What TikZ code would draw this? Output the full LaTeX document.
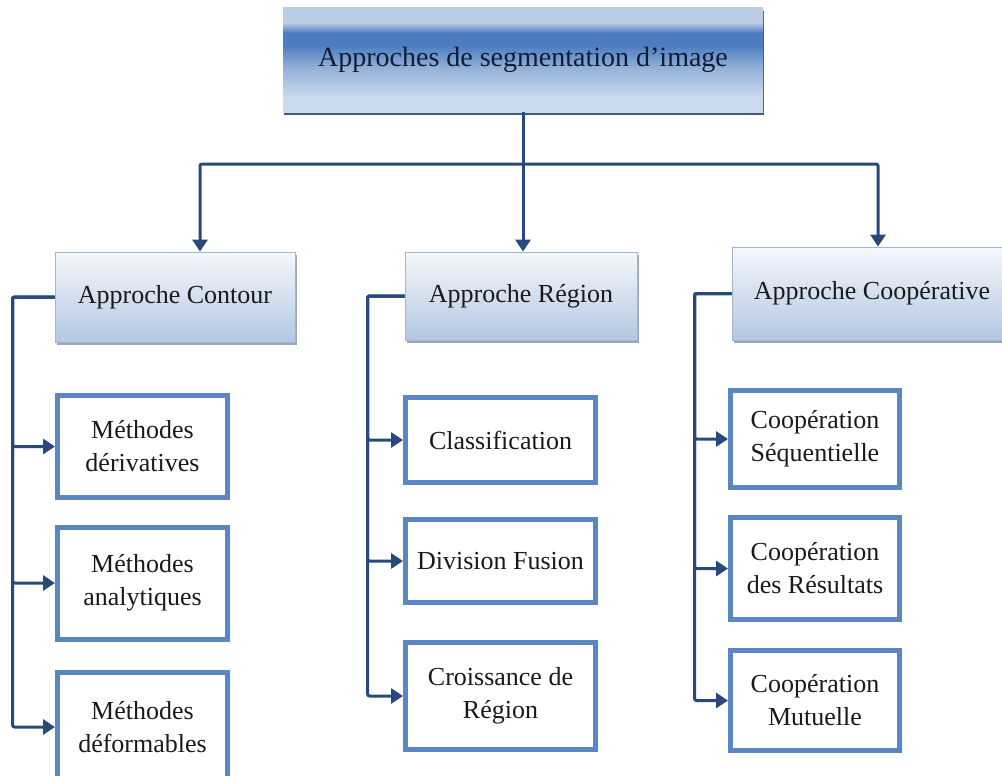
\documentclass[tikz,border=0pt]{standalone}
\usepackage{fontspec}
\setmainfont{Liberation Serif}
\usetikzlibrary{arrows.meta,shadows}
\definecolor{connc}{HTML}{284A7A}
\definecolor{leafb}{HTML}{5A86C3}
\definecolor{lvltop}{HTML}{F5F8FC}
\definecolor{lvlbot}{HTML}{B3C7E1}
\definecolor{lvlbd}{HTML}{A3B6CE}
\definecolor{shd}{HTML}{7F93AE}
\definecolor{tA}{HTML}{BACDE4}
\definecolor{tM}{HTML}{94B2DA}
\definecolor{tB}{HTML}{4D7DC0}
\definecolor{tC}{HTML}{CADAED}
\definecolor{txt}{HTML}{1A1A1A}
\definecolor{toptxt}{HTML}{101C33}
\pgfdeclareverticalshading{topshade}{100bp}{color(0bp)=(tC); color(25bp)=(tC); color(32bp)=(tC); color(46bp)=(tM); color(57bp)=(tB); color(63bp)=(tB); color(68bp)=(tA); color(75bp)=(tA); color(100bp)=(tA)}
\tikzset{
  topbox/.style={shading=topshade, draw=none, minimum width=480pt, minimum height=104pt,
    drop shadow={shadow xshift=1pt, shadow yshift=-3pt, fill=connc, opacity=0.9},
    font=\fontsize{28}{32}\selectfont, text=toptxt},
  lvl/.style={draw=lvlbd, line width=0.8pt, top color=lvltop, bottom color=lvlbot,
    drop shadow={shadow xshift=2pt, shadow yshift=-3pt, fill=shd, opacity=0.8},
    font=\fontsize{26}{30}\selectfont, text=txt},
  leaf/.style={draw=leafb, line width=5pt, fill=white, align=center, text=txt,
    font=\fontsize{26}{33}\selectfont, inner sep=2pt},
  arrow/.style={draw=connc, line width=3pt, rounded corners=2pt,
    -{Triangle[length=12pt,width=15pt]}},
}
\begin{document}
\begin{tikzpicture}[x=1pt,y=-1pt]
\useasboundingbox (0,0) rectangle (1002,776);
\fill[white] (0,0) rectangle (1002,776);

\node[topbox] (top) at (523,60) {\raisebox{-4pt}{Approches de segmentation d’image}};

\node[lvl, minimum width=240pt, minimum height=90pt] (contour) at (175,297) {Approche Contour};
\node[lvl, minimum width=232pt, minimum height=88pt] (region) at (521,296) {Approche Région};
\node[lvl, minimum width=280pt, minimum height=93pt] (coop) at (872,293.5) {Approche Coopérative};

\node[leaf, minimum width=170pt, minimum height=102pt] (m1) at (142.5,446.5) {Méthodes\\dérivatives};
\node[leaf, minimum width=170pt, minimum height=112pt] (m2) at (142.5,583) {Méthodes\\analytiques};
\node[leaf, minimum width=170pt, minimum height=109pt] (m3) at (142.5,727) {Méthodes\\déformables};

\node[leaf, minimum width=190pt, minimum height=85pt] (r1) at (500.5,440) {Classification};
\node[leaf, minimum width=190pt, minimum height=83pt] (r2) at (500.5,561) {Division Fusion};
\node[leaf, minimum width=190pt, minimum height=107pt] (r3) at (500.5,696) {Croissance de\\Région};

\node[leaf, minimum width=169pt, minimum height=97pt] (c1) at (815,439) {Coopération\\Séquentielle};
\node[leaf, minimum width=169pt, minimum height=102pt] (c2) at (815,568.5) {Coopération\\des Résultats};
\node[leaf, minimum width=169pt, minimum height=100pt] (c3) at (815,700.5) {Coopération\\Mutuelle};

\coordinate (hl) at (200,164);
\coordinate (hr) at (878,164);
\coordinate (hm) at (top.south |- hl);

\draw[arrow] (top.south) -- (top.south |- region.north);
\draw[arrow] (hm) -| (hl |- contour.north);
\draw[arrow] (hm) -| (hr |- coop.north);

\foreach \n in {m1,m2,m3}{\draw[arrow] (contour.west) -- ++(-42,0) |- (\n.west);}
\foreach \n in {r1,r2,r3}{\draw[arrow] (region.west) -- ++(-37,0) |- (\n.west);}
\foreach \n in {c1,c2,c3}{\draw[arrow] (coop.west) -- ++(-37,0) |- (\n.west);}
\end{tikzpicture}
\end{document}
